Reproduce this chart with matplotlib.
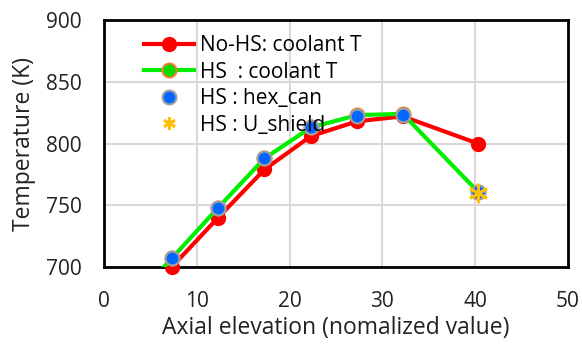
import matplotlib.pyplot as plt

plt.rcParams['font.family'] = ['Open Sans', 'DejaVu Sans']

# data
x_nohs = [2.3, 7.3, 12.3, 17.3, 22.3, 27.3, 32.2, 40.3]
t_nohs = [660, 700, 740, 779, 806, 818, 822, 800]
x_hs = [2.3, 7.3, 12.3, 17.3, 22.3, 27.3, 32.2, 40.3]
t_hs = [666, 707, 748, 788, 813, 823, 824, 761]
x_hex = [7.3, 12.3, 17.3, 22.3, 27.3, 32.2, 40.3]
t_hex = [707, 748, 788, 813, 822, 823, 761]
x_ush = [40.3]
t_ush = [760]

fig = plt.figure(figsize=(5.82, 3.47), dpi=100)
ax = fig.add_axes([0.1787, 0.2305, 0.797, 0.7118])

# lines (clipped) and markers (not clipped, like the original)
ax.plot(x_nohs, t_nohs, color='#ff0000', lw=3, zorder=3)
ax.plot(x_hs, t_hs, color='#00ee00', lw=3, zorder=4)
ax.plot(x_nohs[1:], t_nohs[1:], ls='none', marker='o', ms=10,
        mfc='#ff0000', mec='#ff0000', zorder=3, clip_on=False)
ax.plot(x_hs[1:], t_hs[1:], ls='none', marker='o', ms=10,
        mfc='#00dd00', mec='#ed7d31', mew=1.5, zorder=4, clip_on=False)
ax.plot(x_hex, t_hex, ls='none', marker='o', ms=10,
        mfc='#0066ff', mec='#a0a0a0', mew=1.5, zorder=5, clip_on=False)
ax.plot(x_ush, t_ush, ls='none', marker=(6, 2, 0), ms=14, mew=2,
        color='#ffc000', zorder=6)

# legend handles
h1, = ax.plot([], [], color='#ff0000', lw=3, marker='o', ms=10,
              mfc='#ff0000', mec='#ff0000', label='No-HS: coolant T')
h2, = ax.plot([], [], color='#00ee00', lw=3, marker='o', ms=10,
              mfc='#00dd00', mec='#ed7d31', mew=1.5, label='HS  : coolant T')
h3, = ax.plot([], [], ls='none', marker='o', ms=10,
              mfc='#0066ff', mec='#a0a0a0', mew=1.5, label='HS : hex_can')
h4, = ax.plot([], [], ls='none', marker=(6, 2, 0), ms=9, mew=2,
              color='#ffc000', label='HS : U_shield')

ax.set_xlim(0, 50)
ax.set_ylim(700, 900)
ax.set_xticks([0, 10, 20, 30, 40, 50])
ax.set_yticks([700, 750, 800, 850, 900])
ax.set_xlabel('Axial elevation (nomalized value)', fontsize=16.5,
              color='#222222', labelpad=3)
ax.set_ylabel('Temperature (K)', fontsize=16.5, color='#222222', labelpad=7)
ax.tick_params(labelsize=15, length=0, colors='#222222')
ax.tick_params(axis='x', pad=17)
ax.tick_params(axis='y', pad=16)

for s in ax.spines.values():
    s.set_linewidth(2)
    s.set_color('black')

ax.grid(True, color='#d9d9d9', lw=1.5)
ax.set_axisbelow(True)

ax.legend(handles=[h1, h2, h3, h4], loc='upper left',
          bbox_to_anchor=(0.055, 0.997), frameon=False,
          fontsize=15, handlelength=2.4, labelspacing=0.26,
          handletextpad=0.3, borderaxespad=0.3)

fig.savefig('out.png', dpi=100)
